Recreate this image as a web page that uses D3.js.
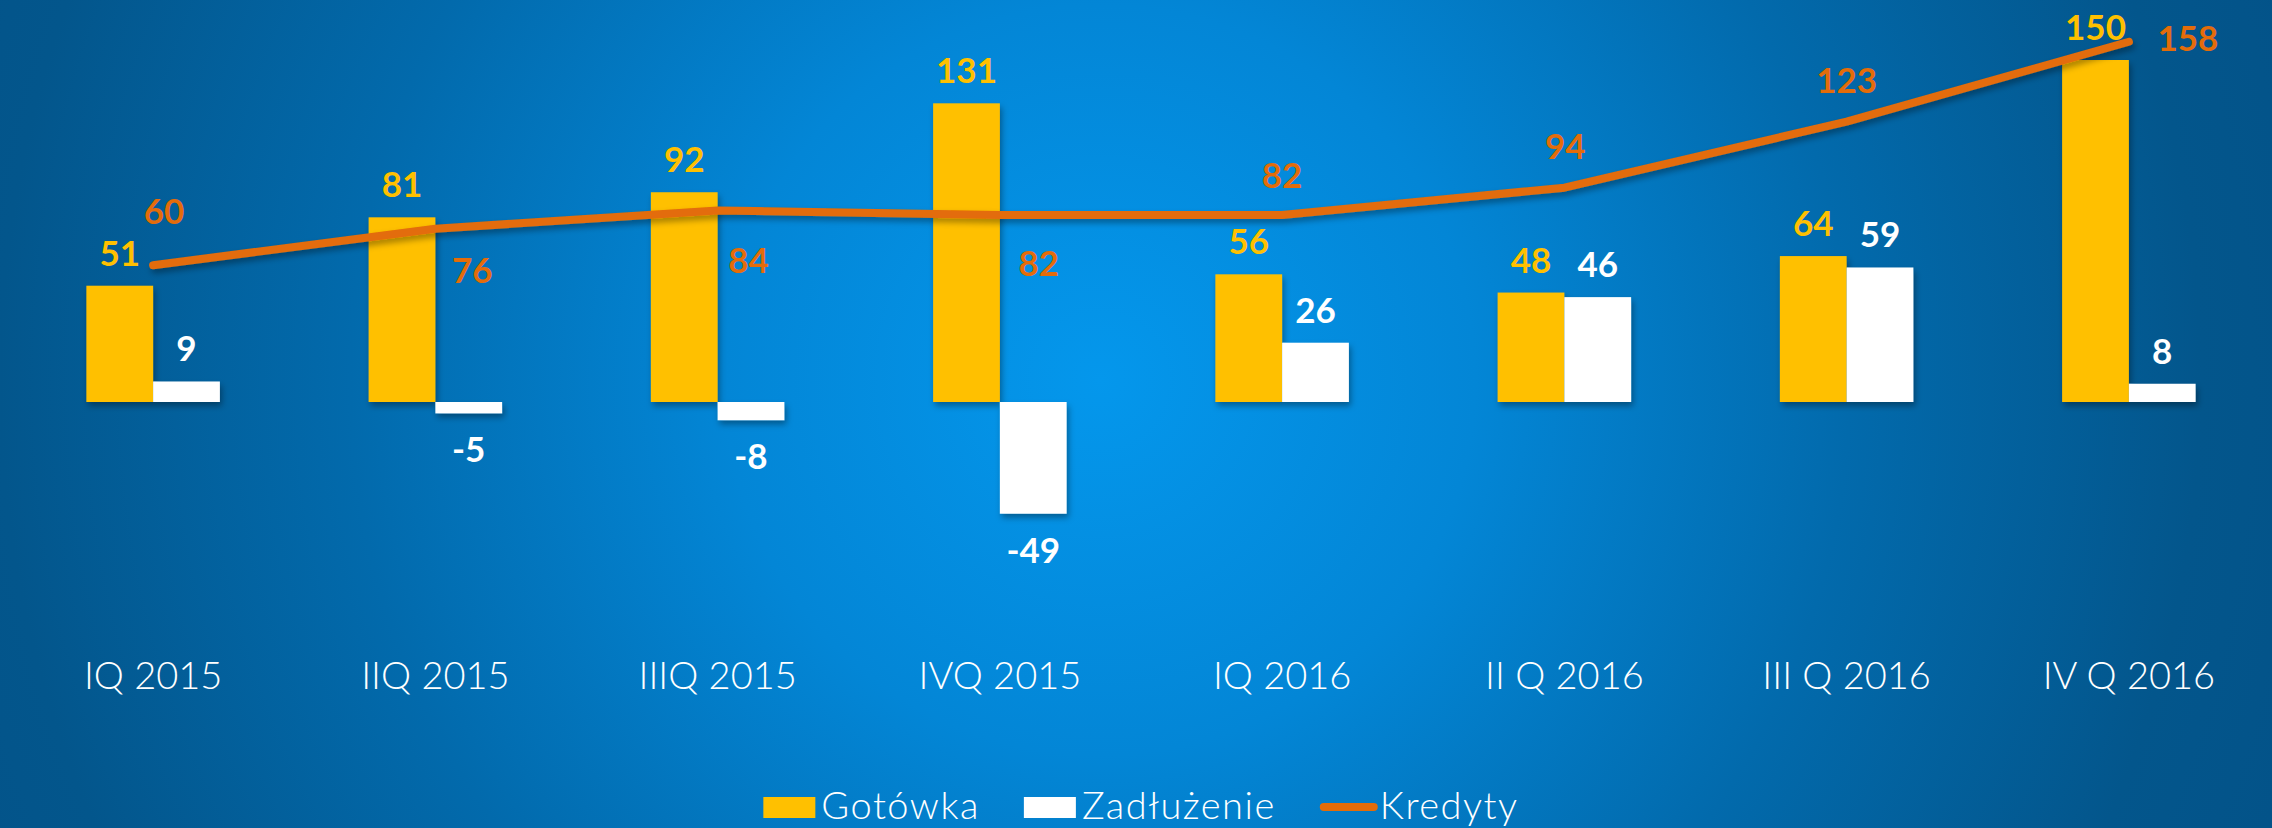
<!DOCTYPE html>
<html>
<head>
<meta charset="utf-8">
<script src="https://cdn.jsdelivr.net/npm/d3@7"></script>
<style>
  html, body { margin: 0; padding: 0; background: #03548a; }
  svg { display: block; }
</style>
</head>
<body>
<svg id="chart" width="2272" height="828"></svg>
<script>
// ---- data ----
const categories = ["IQ 2015", "IIQ 2015", "IIIQ 2015", "IVQ 2015", "IQ 2016", "II Q 2016", "III Q 2016", "IV Q 2016"];
const gotowka = [51, 81, 92, 131, 56, 48, 64, 150];
const zadluzenie = [9, -5, -8, -49, 26, 46, 59, 8];
const kredyty = [60, 76, 84, 82, 82, 94, 123, 158];
const seriesNames = ["Gotówka", "Zadłużenie", "Kredyty"];

// ---- layout / style (not data) ----
const W = 2272, H = 828;
const colors = { g: "#FFC000", z: "#FFFFFF", k: "#E36C09" };
const kredytyLabelOffset = [[11, -41], [37, 54], [31, 63], [39, 61], [0, -27], [1, -29], [0, -29], [59, 9]];

const svg = d3.select("#chart");
const defs = svg.append("defs");

const grad = defs.append("radialGradient")
  .attr("id", "bg").attr("gradientUnits", "userSpaceOnUse")
  .attr("cx", 1100).attr("cy", 380).attr("r", 1250);
[[0, "#0497EC"], [0.3, "#0386D6"], [0.6, "#026AAC"], [0.88, "#03568C"], [1, "#035389"]]
  .forEach(([o, c]) => grad.append("stop").attr("offset", o).attr("stop-color", c));

const sh = defs.append("filter").attr("id", "shadow")
  .attr("x", "-20%").attr("y", "-20%").attr("width", "140%").attr("height", "140%");
sh.append("feDropShadow").attr("dx", 2).attr("dy", 4).attr("stdDeviation", 3)
  .attr("flood-color", "#000").attr("flood-opacity", 0.35);

svg.append("rect").attr("width", W).attr("height", H).attr("fill", "url(#bg)");

// ---- scales ----
const x0 = d3.scaleBand().domain(categories).range([12, 2270])
  .paddingInner(0.527).paddingOuter(0.2635);
const x1 = d3.scaleBand().domain(["g", "z"]).range([0, x0.bandwidth()]);
const y = d3.scaleLinear().domain([0, 150]).range([402, 60]);

const rows = categories.map((c, i) => ({ c, g: gotowka[i], z: zadluzenie[i], k: kredyty[i], i }));

// ---- bars ----
const barG = svg.append("g").attr("filter", "url(#shadow)");
["g", "z"].forEach(key => {
  barG.selectAll("rect.b" + key).data(rows).join("rect")
    .attr("class", "b" + key)
    .attr("x", d => x0(d.c) + x1(key))
    .attr("width", x1.bandwidth())
    .attr("y", d => y(Math.max(0, d[key])))
    .attr("height", d => Math.abs(y(d[key]) - y(0)))
    .attr("fill", colors[key]);
});

// ---- zero axis line ----
svg.append("line")
  .attr("x1", 12).attr("x2", 2268).attr("y1", y(0)).attr("y2", y(0))
  .attr("stroke", "#D9D9D9").attr("stroke-width", 2.5)
  .attr("filter", "url(#shadow)");

// ---- line ----
const cx = d => x0(d.c) + x0.bandwidth() / 2;
const line = d3.line().x(cx).y(d => y(d.k));
svg.append("path").datum(rows)
  .attr("d", line)
  .attr("fill", "none").attr("stroke", colors.k).attr("stroke-width", 8)
  .attr("stroke-linecap", "round").attr("stroke-linejoin", "round")
  .attr("filter", "url(#shadow)");

// ---- value labels ----
const lblFont = "Lato, 'Open Sans', sans-serif";
const labels = svg.append("g").attr("font-family", lblFont).attr("font-weight", 700)
  .attr("font-size", 35).attr("text-anchor", "middle");

labels.selectAll("text.lg").data(rows).join("text").attr("class", "lg")
  .attr("x", d => x0(d.c) + x1("g") + x1.bandwidth() / 2)
  .attr("y", d => y(d.g) - 20)
  .attr("fill", colors.g).text(d => d.g);

labels.selectAll("text.lz").data(rows).join("text").attr("class", "lz")
  .attr("x", d => x0(d.c) + x1("z") + x1.bandwidth() / 2)
  .attr("y", d => d.z >= 0 ? y(d.z) - 20 : y(d.z) + 49)
  .attr("fill", colors.z).text(d => d.z);

labels.selectAll("text.lk").data(rows).join("text").attr("class", "lk")
  .attr("x", d => cx(d) + kredytyLabelOffset[d.i][0])
  .attr("y", d => y(d.k) + kredytyLabelOffset[d.i][1])
  .attr("fill", "#E46C0A").text(d => d.k);

// ---- category axis labels ----
const xAxis = d3.axisBottom(x0).tickSize(0).tickPadding(0);
const ax = svg.append("g").attr("transform", "translate(0,662)").call(xAxis);
ax.select(".domain").remove();
ax.selectAll("text")
  .attr("font-family", lblFont).attr("font-weight", 300).attr("font-size", 38)
  .attr("fill", "#FFFFFF").attr("dy", "0.71em");

// ---- legend ----
const leg = svg.append("g").attr("font-family", lblFont).attr("font-weight", 300)
  .attr("font-size", 38).attr("letter-spacing", "1.5px").attr("fill", "#FFFFFF");
const legBase = 819;
let lx = 0;
const items = [];
seriesNames.forEach((name, i) => {
  const g = leg.append("g");
  if (i < 2) {
    g.append("rect").attr("x", 0).attr("y", legBase - 22).attr("width", 52).attr("height", 21)
      .attr("fill", i === 0 ? colors.g : colors.z);
  } else {
    g.append("line").attr("x1", 4).attr("x2", 54).attr("y1", legBase - 12).attr("y2", legBase - 12)
      .attr("stroke", colors.k).attr("stroke-width", 8).attr("stroke-linecap", "round");
  }
  const t = g.append("text").attr("x", i < 2 ? 58 : 60).attr("y", legBase).text(name);
  const w = (i < 2 ? 58 : 60) + t.node().getComputedTextLength();
  items.push({ g, w });
});
const gap = 44;
const total = d3.sum(items, d => d.w) + gap * (items.length - 1);
lx = 1141 - total / 2;
items.forEach(it => { it.g.attr("transform", `translate(${lx},0)`); lx += it.w + gap; });
</script>
</body>
</html>
